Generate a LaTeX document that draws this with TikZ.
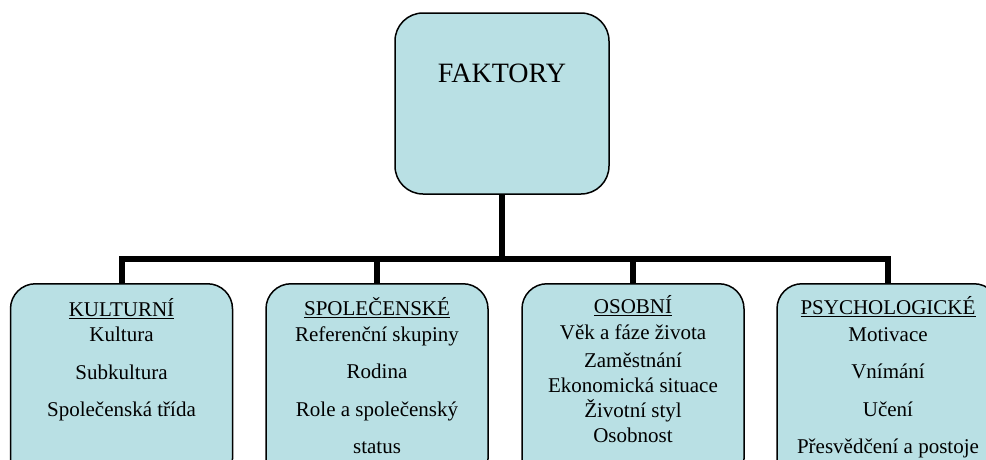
\documentclass[tikz,border=0pt]{standalone}
\usepackage{fontspec}
\setmainfont{Liberation Serif}
\definecolor{boxfill}{RGB}{185,224,228}

\tikzstyle{topbox}=[draw, line width=1.5pt, fill=boxfill, rounded corners=28pt, minimum width=214pt, inner sep=0pt, font=\fontsize{28}{32}\selectfont, text height=69pt, text depth=112pt]
\tikzstyle{factor}=[draw, line width=1.5pt, fill=boxfill, rounded corners=25pt, minimum width=222pt, inner sep=0pt, align=center, anchor=north, font=\fontsize{21}{25}\selectfont]
\tikzstyle{link} = [draw, line width=6pt, -]

\begin{document}
\begin{tikzpicture}[x=1pt, y=-1pt]
		\clip (0,0) rectangle (986,459);
		\node[topbox] (faktory) at (502,103.5) {FAKTORY};
		\coordinate (bus) at (502,259);
		\node[factor, text height=133pt, text depth=67pt] (kulturni) at (121.5,283) {\underline{KULTURNÍ}\\Kultura\\[12.5pt]Subkultura\\[12.5pt]Společenská třída};
		\node[factor, text height=170pt, text depth=30pt] (spolecenske) at (377,283) {\underline{SPOLEČENSKÉ}\\[1pt]Referenční skupiny\\[12.5pt]Rodina\\[12.5pt]Role a společenský\\[12.5pt]status};
		\node[factor, text height=159pt, text depth=41pt] (osobni) at (633,283) {\underline{OSOBNÍ}\\[1pt]Věk a fáze života\\[3pt]Zaměstnání\\Ekonomická situace\\Životní styl\\Osobnost};
		\node[factor, text height=170pt, text depth=30pt] (psychologicke) at (888,283) {\underline{PSYCHOLOGICKÉ}\\[2pt]Motivace\\[12.5pt]Vnímání\\[12.5pt]Učení\\[12.5pt]Přesvědčení a postoje};
		\path[link] (faktory.south) -- (bus);
		\foreach \name in {kulturni, spolecenske, osobni, psychologicke}
			\path[link] (bus) -| (\name.north);
	\end{tikzpicture}
\end{document}
